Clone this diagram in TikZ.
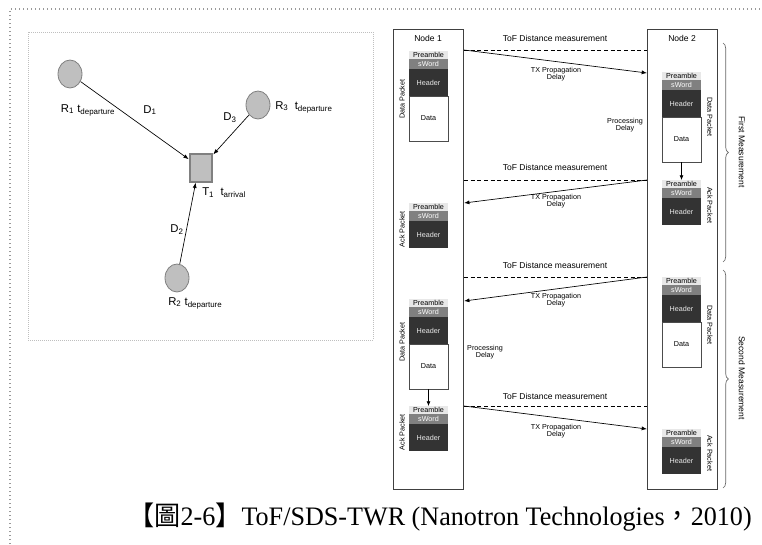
\documentclass[tikz,border=0pt]{standalone}
\usepackage{fontspec}
\setmainfont{Liberation Sans}
\newfontfamily\capfont{Liberation Serif}
\newfontfamily\cjk{Noto Sans CJK TC}
\usetikzlibrary{positioning,arrows.meta,decorations.pathreplacing,shapes.geometric}

\tikzset{
  pkt/.style={minimum width=29.25pt, inner sep=0pt, outer sep=0pt, font=\fontsize{5.4}{6}\selectfont},
  preamble/.style={pkt, fill=black!9, minimum height=6pt},
  sword/.style={pkt, fill=black!50, text=white, minimum height=7.5pt},
  header/.style={pkt, fill=black!80, text=black!8, minimum height=20.25pt},
  payload/.style={pkt, draw=black!70, fill=white, line width=0.5pt, minimum height=33.75pt},
  nodebox/.style={draw=black!75, line width=0.8pt, minimum width=52.5pt, minimum height=345pt, anchor=north west},
  small/.style={font=\fontsize{5.4}{5.6}\selectfont, align=center, inner sep=0pt},
  mid/.style={font=\fontsize{6.4}{7}\selectfont, inner sep=0pt},
  msg/.style={-{Latex[length=4pt,width=3pt]}, line width=0.5pt},
  tof/.style={line width=0.7pt, dash pattern=on 3pt off 2pt},
  inner/.style={-{Latex[length=3.5pt,width=3pt]}, line width=0.5pt},
  mbrace/.style={decorate, decoration={brace, amplitude=4pt}, black!60, line width=0.5pt},
  station/.style={ellipse, draw=black!50, fill=black!25, line width=0.6pt, minimum width=18pt, minimum height=21pt},
  tag/.style={rectangle, draw=black!50, fill=black!25, line width=1.4pt, minimum width=17pt, minimum height=20.5pt},
  lbl/.style={font=\fontsize{8.5}{10}\selectfont, inner sep=0pt}
}

\begin{document}
\begin{tikzpicture}[x=0.75pt, y=-0.75pt]
\useasboundingbox (0,0) rectangle (762,544);

% frames
\draw[black!40, line width=1pt, dotted] (10,544) -- (10,9) -- (762,9);
\draw[black!25, line width=0.5pt, densely dotted] (28,32) rectangle (373,340);

% trilateration
\node[station] (r1) at (70,74) {};
\node[station] (r3) at (258,105) {};
\node[station] (r2) at (177,278) {};
\node[tag] (t1) at (201,168) {};
\draw[msg] (r1) -- (t1);
\draw[msg] (r3) -- (t1);
\draw[msg] (r2) -- (t1.250);

\node[lbl] (r1l) at (88,110) {R\textsubscript{1} t\textsubscript{departure}};
\node[lbl, anchor=west] (r3l) at (275,107) {R\textsubscript{3}\ \ t\textsubscript{departure}};
\node[lbl, anchor=west] (r2l) at (168,303) {R\textsubscript{2} t\textsubscript{departure}};
\node[lbl, anchor=west] (t1l) at (202,193) {T\textsubscript{1}\ \ t\textsubscript{arrival}};
\node[lbl] (d1) at (150,110) {D\textsubscript{1}};
\node[lbl] (d3) at (230,118) {D\textsubscript{3}};
\node[lbl] (d2) at (177,230) {D\textsubscript{2}};

% the two nodes
\node[nodebox] (n1) at (393,29) {};
\node[nodebox] (n2) at (647,29) {};
\node[mid] (n1l) at (428,38) {Node 1};
\node[mid] (n2l) at (682,38) {Node 2};

% node 1, first data packet
\node[preamble, anchor=north] (a1p) at (428.5,51) {Preamble};
\node[sword, below=0pt of a1p] (a1s) {sWord};
\node[header, below=0pt of a1s] (a1h) {Header};
\node[payload, below=0pt of a1h] (a1d) {Data};
% node 2, first data packet
\node[preamble, anchor=north] (b1p) at (681.5,72) {Preamble};
\node[sword, below=0pt of b1p] (b1s) {sWord};
\node[header, below=0pt of b1s] (b1h) {Header};
\node[payload, below=0pt of b1h] (b1d) {Data};
% node 2, ack
\node[preamble, anchor=north] (b2p) at (681.5,180) {Preamble};
\node[sword, below=0pt of b2p] (b2s) {sWord};
\node[header, below=0pt of b2s] (b2h) {Header};
\draw[inner] (b1d) -- (b2p);
% node 1, ack
\node[preamble, anchor=north] (a2p) at (428.5,203) {Preamble};
\node[sword, below=0pt of a2p] (a2s) {sWord};
\node[header, below=0pt of a2s] (a2h) {Header};
% node 2, second data packet
\node[preamble, anchor=north] (b3p) at (681.5,277) {Preamble};
\node[sword, below=0pt of b3p] (b3s) {sWord};
\node[header, below=0pt of b3s] (b3h) {Header};
\node[payload, below=0pt of b3h] (b3d) {Data};
% node 1, second data packet
\node[preamble, anchor=north] (a3p) at (428.5,299) {Preamble};
\node[sword, below=0pt of a3p] (a3s) {sWord};
\node[header, below=0pt of a3s] (a3h) {Header};
\node[payload, below=0pt of a3h] (a3d) {Data};
% node 1, second ack
\node[preamble, anchor=north] (a4p) at (428.5,406) {Preamble};
\node[sword, below=0pt of a4p] (a4s) {sWord};
\node[header, below=0pt of a4s] (a4h) {Header};
\draw[inner] (a3d) -- (a4p);
% node 2, second ack
\node[preamble, anchor=north] (b4p) at (681.5,429) {Preamble};
\node[sword, below=0pt of b4p] (b4s) {sWord};
\node[header, below=0pt of b4s] (b4h) {Header};

% packet names
\node[small, rotate=90] at (402,99) {Data Packet};
\node[small, rotate=90] at (402,229) {Ack Packet};
\node[small, rotate=90] at (402,342) {Data Packet};
\node[small, rotate=90] at (402,432) {Ack Packet};
\node[small, rotate=-90] at (710,117) {Data Packet};
\node[small, rotate=-90] at (710,205) {Ack Packet};
\node[small, rotate=-90] at (710,325) {Data Packet};
\node[small, rotate=-90] at (710,453) {Ack Packet};

% distance measurement lines
\draw[tof] (n1.east |- 0,50) -- (n2.west |- 0,50);
\draw[tof] (n1.east |- 0,180) -- (n2.west |- 0,180);
\draw[tof] (n1.east |- 0,277) -- (n2.west |- 0,277);
\draw[tof] (n1.east |- 0,406) -- (n2.west |- 0,406);
\node[mid] at (555,38) {ToF Distance measurement};
\node[mid] at (555,167) {ToF Distance measurement};
\node[mid] at (555,265) {ToF Distance measurement};
\node[mid] at (555,396) {ToF Distance measurement};

% messages
\draw[msg] (n1.east |- 0,50) -- (n2.west |- 0,73);
\draw[msg] (n2.west |- 0,180) -- (n1.east |- 0,203);
\draw[msg] (n2.west |- 0,277) -- (n1.east |- 0,301);
\draw[msg] (n1.east |- 0,406) -- (n2.west |- 0,429);
\node[small] at (556,74) {TX Propagation\\Delay};
\node[small] at (556,201) {TX Propagation\\Delay};
\node[small] at (556,300) {TX Propagation\\Delay};
\node[small] at (556,431) {TX Propagation\\Delay};
\node[small] at (625,125) {Processing\\Delay};
\node[small] at (485,352) {Processing\\Delay};

% braces
\draw[mbrace] (723,43) -- (723,262);
\draw[mbrace] (723,270) -- (723,488);
\node[mid, rotate=-90] at (742,152) {First Measurement};
\node[mid, rotate=-90] at (742,378) {Second Measurement};

\node[font=\fontsize{20}{24}\selectfont, inner sep=0pt] (cap) at (440,517)
  {\scalebox{0.98}[1]{\cjk【圖\capfont 2-6\cjk】\capfont ToF/SDS-TWR (Nanotron Technologies\cjk，\capfont 2010)}};
\end{tikzpicture}
\end{document}
